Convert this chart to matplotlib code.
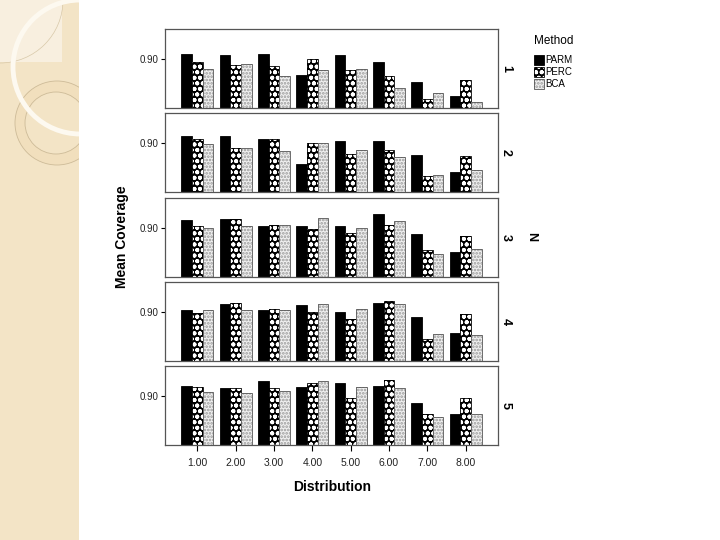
import matplotlib.pyplot as plt
from matplotlib.patches import Rectangle, Circle
import numpy as np

plt.rcParams['font.family'] = ['Liberation Sans', 'DejaVu Sans']
plt.rcParams['hatch.linewidth'] = 1.3

dist_labels = ["1.00", "2.00", "3.00", "4.00", "5.00", "6.00", "7.00", "8.00"]
n_labels = ["1", "2", "3", "4", "5"]

# mean coverage per N (rows) and distribution (columns)
parm = [
    [0.904, 0.903, 0.904, 0.887, 0.903, 0.897, 0.881, 0.870],
    [0.905, 0.905, 0.903, 0.883, 0.901, 0.901, 0.890, 0.876],
    [0.906, 0.907, 0.901, 0.901, 0.901, 0.911, 0.895, 0.880],
    [0.901, 0.906, 0.901, 0.905, 0.900, 0.907, 0.896, 0.883],
    [0.908, 0.906, 0.912, 0.907, 0.910, 0.908, 0.894, 0.885],
]
perc = [
    [0.897, 0.895, 0.894, 0.900, 0.891, 0.886, 0.867, 0.883],
    [0.903, 0.896, 0.903, 0.900, 0.891, 0.894, 0.873, 0.889],
    [0.901, 0.907, 0.902, 0.899, 0.896, 0.902, 0.882, 0.893],
    [0.899, 0.907, 0.902, 0.900, 0.894, 0.909, 0.878, 0.898],
    [0.907, 0.906, 0.906, 0.910, 0.898, 0.913, 0.885, 0.898],
]
bca = [
    [0.892, 0.896, 0.886, 0.891, 0.892, 0.876, 0.872, 0.865],
    [0.899, 0.896, 0.893, 0.900, 0.894, 0.888, 0.874, 0.878],
    [0.900, 0.901, 0.902, 0.908, 0.900, 0.905, 0.879, 0.883],
    [0.901, 0.901, 0.901, 0.906, 0.902, 0.906, 0.882, 0.881],
    [0.903, 0.902, 0.904, 0.912, 0.907, 0.906, 0.883, 0.885],
]

W, H = 720, 540
fig = plt.figure(figsize=(7.2, 5.4), dpi=100)
fig.patch.set_facecolor('white')

# decorative strip on the left of the slide
bg = fig.add_axes([0, 0, 1, 1], zorder=-10)
bg.set_xlim(0, W)
bg.set_ylim(H, 0)
bg.axis('off')
bg.add_patch(Rectangle((0, 0), 79, H, facecolor='#f3e4c6', edgecolor='none'))
bg.add_patch(Rectangle((0, 0), 62, 62, facecolor='#f8efdf', edgecolor='none'))
bg.add_patch(Circle((0, 0), 63, facecolor='none', edgecolor='#d8c8a8', lw=0.5))
bg.add_patch(Circle((57, 123), 42, facecolor='#f1dfbd', edgecolor='#cdbb98', lw=0.6))
bg.add_patch(Circle((56, 123), 31, facecolor='#f3e4c6', edgecolor='#cdbb98', lw=0.6))
bg.add_patch(Circle((80, 67), 67, facecolor='none', edgecolor='#fdf9f0', lw=3.5))
bg.add_patch(Rectangle((79, 0), W - 79, H, facecolor='white', edgecolor='none'))

x = np.arange(1, len(dist_labels) + 1)
bw = 0.28
tops = [29, 113, 198, 282, 366]
ph = 79
left, pw = 165, 333
base = 0.86

for i in range(len(n_labels)):
    ax = fig.add_axes([left / W, 1 - (tops[i] + ph) / H, pw / W, ph / H])
    ax.set_xlim(0.157, 8.843)
    ax.set_ylim(base, 0.924)
    # PARM
    ax.bar(x - bw, np.array(parm[i]) - base, bw, bottom=base, color='black',
           edgecolor='black', lw=0.6)
    # PERC: checker-ish pattern
    ax.bar(x, np.array(perc[i]) - base, bw, bottom=base, color='black',
           edgecolor='white', hatch='ooo', lw=0)
    ax.bar(x, np.array(perc[i]) - base, bw, bottom=base, fill=False,
           edgecolor='black', lw=0.6)
    # BCA: light dotted
    ax.bar(x + bw, np.array(bca[i]) - base, bw, bottom=base, color='#f0f0f0',
           edgecolor='#9a9a9a', hatch='.....', lw=0)
    ax.bar(x + bw, np.array(bca[i]) - base, bw, bottom=base, fill=False,
           edgecolor='#555555', lw=0.6)
    ax.set_yticks([0.90])
    ax.set_yticklabels(["0.90"], fontsize=7, color='#222222')
    ax.tick_params(axis='y', length=3, width=0.8, pad=2)
    for s in ax.spines.values():
        s.set_color('#555555')
        s.set_linewidth(0.9)
    if i < len(n_labels) - 1:
        ax.set_xticks([])
    else:
        ax.set_xticks(x)
        ax.set_xticklabels(dist_labels, fontsize=7.5, color='#222222')
        ax.tick_params(axis='x', length=4, width=0.8, pad=5)
    ax.text(1.006, 0.5, n_labels[i], transform=ax.transAxes, rotation=-90,
            fontsize=9, fontweight='bold', va='center', ha='left')

fig.text(122 / W, 1 - 237 / H, "Mean Coverage", rotation=90, fontsize=10,
         fontweight='bold', ha='center', va='center')
fig.text(332 / W, 1 - 487 / H, "Distribution", fontsize=10,
         fontweight='bold', ha='center', va='center')
fig.text(531 / W, 1 - 237 / H, "N", rotation=-90, fontsize=9,
         fontweight='bold', ha='center', va='center')

# legend
fig.text(534 / W, 1 - 41 / H, "Method", fontsize=8.5, ha='left', va='center')
lg = fig.add_axes([0, 0, 1, 1], zorder=5)
lg.set_xlim(0, W)
lg.set_ylim(H, 0)
lg.axis('off')
legend_names = ["PARM", "PERC", "BCA"]
ys = [60, 72, 84]
lg.add_patch(Rectangle((534, ys[0] - 5), 10, 10, facecolor='black', edgecolor='black', lw=0.6))
lg.add_patch(Rectangle((534, ys[1] - 5), 10, 10, facecolor='black', edgecolor='white', hatch='ooo', lw=0))
lg.add_patch(Rectangle((534, ys[1] - 5), 10, 10, fill=False, edgecolor='black', lw=0.6))
lg.add_patch(Rectangle((534, ys[2] - 5), 10, 10, facecolor='#f0f0f0', edgecolor='#9a9a9a', hatch='.....', lw=0))
lg.add_patch(Rectangle((534, ys[2] - 5), 10, 10, fill=False, edgecolor='#555555', lw=0.6))
for name, yy in zip(legend_names, ys):
    lg.text(545, yy, name, fontsize=7, ha='left', va='center')

fig.savefig('out.png', dpi=100)
